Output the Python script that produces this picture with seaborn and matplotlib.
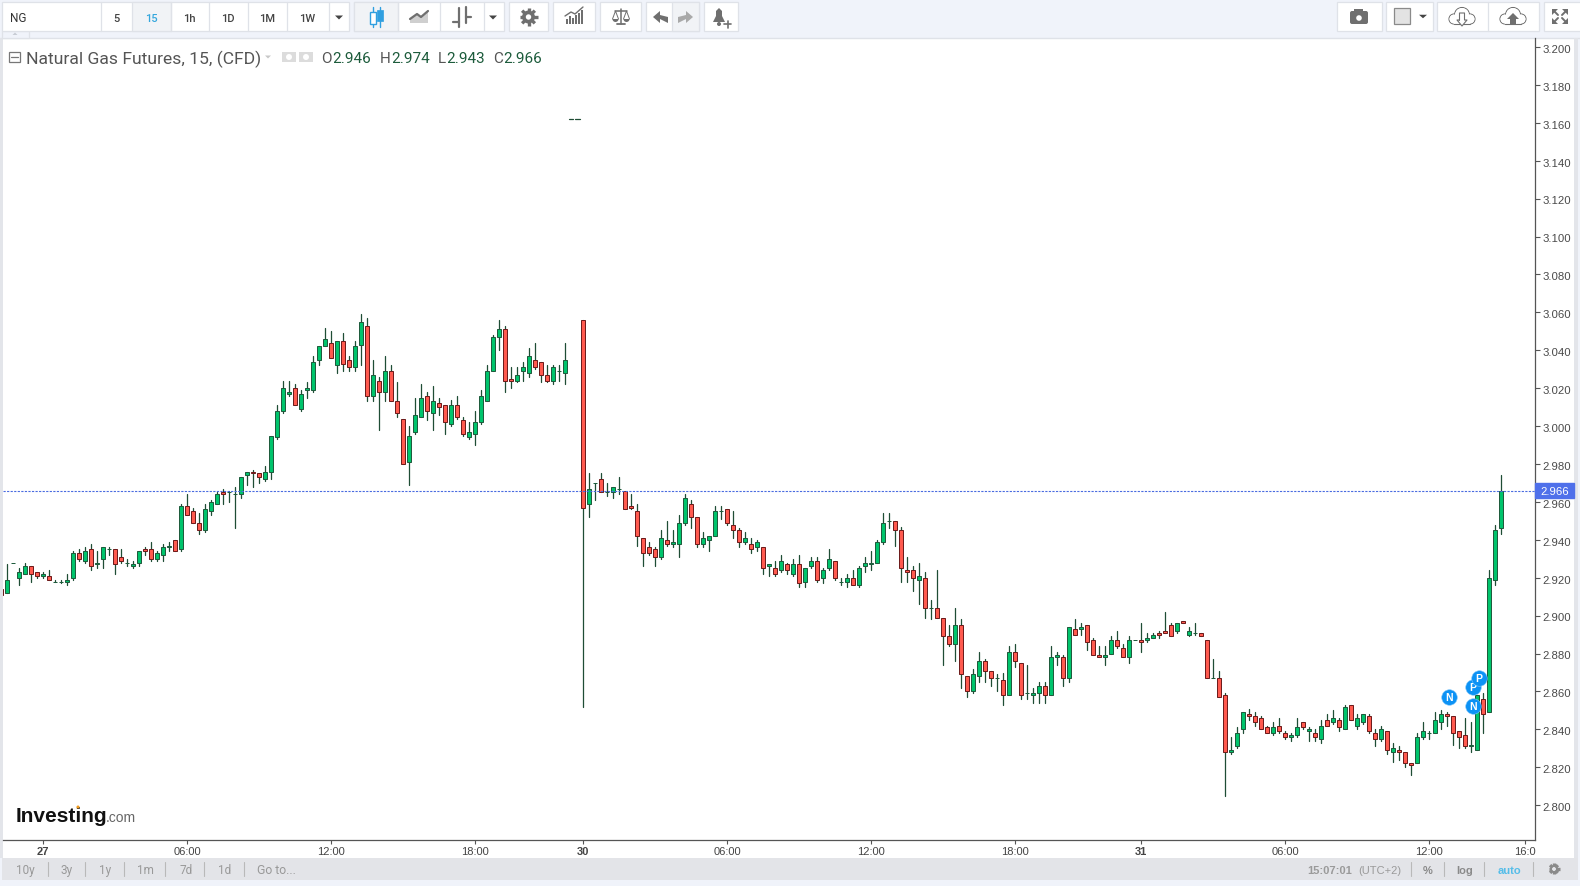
import numpy as np
import pandas as pd
import seaborn as sns
import matplotlib.pyplot as plt
import matplotlib.patches as mpatches
from matplotlib.transforms import ScaledTranslation, blended_transform_factory

# 15 minute bars, two empty slots at the weekend break
bar_index = list(range(-1, 94)) + list(range(96, 250))

opens = [2.914,
    2.912,2.928,2.920,2.922,2.926,2.923,2.921,2.921,2.918,2.918,
    2.918,2.920,2.933,2.929,2.935,2.927,2.930,2.935,2.935,2.931,
    2.928,2.926,2.928,2.935,2.935,2.930,2.932,2.936,2.940,2.935,
    2.958,2.955,2.949,2.945,2.955,2.959,2.965,2.965,2.964,2.964,
    2.974,2.976,2.975,2.972,2.976,2.994,3.008,3.017,3.020,3.009,
    3.019,3.019,3.035,3.042,3.044,3.032,3.045,3.035,3.031,3.043,
    3.053,3.016,3.024,3.018,3.029,3.013,3.004,2.981,2.997,3.005,
    3.016,3.007,3.012,3.011,3.001,3.011,3.003,2.994,2.996,3.002,
    3.013,3.029,3.047,3.051,3.025,3.024,3.029,3.028,3.035,3.034,
    3.027,3.024,3.029,3.028,
    3.056,2.959,2.970,2.972,
    2.965,2.965,2.967,2.966,2.958,2.955,2.941,2.936,2.935,2.931,
    2.940,2.938,2.938,2.949,2.959,2.952,2.938,2.940,2.942,2.955,
    2.956,2.948,2.945,2.939,2.938,2.936,2.936,2.926,2.925,2.924,
    2.927,2.922,2.927,2.918,2.926,2.929,2.920,2.925,2.929,2.918,
    2.918,2.920,2.916,2.926,2.927,2.928,2.939,2.950,2.950,2.945,
    2.924,2.924,2.919,2.920,2.904,2.904,2.899,2.889,2.885,2.895,
    2.868,2.860,2.868,2.876,2.871,2.867,2.866,2.858,2.881,2.875,
    2.859,2.858,2.859,2.863,2.858,2.878,2.878,2.867,2.893,2.893,
    2.895,2.887,2.879,2.878,2.880,2.887,2.883,2.878,2.887,2.887,
    2.887,2.888,2.891,2.892,2.895,2.892,2.897,2.890,2.891,2.891,
    2.887,2.867,2.867,2.858,2.828,2.831,2.840,2.848,2.847,2.846,
    2.841,2.838,2.842,2.838,2.836,2.837,2.844,2.839,2.838,2.835,
    2.845,2.844,2.845,2.840,2.853,2.842,2.844,2.847,2.838,2.835,
    2.839,2.828,2.829,2.828,2.822,2.822,2.836,2.838,2.838,2.844,
    2.848,2.847,2.839,2.837,2.831,2.829,2.856,2.849,2.919,2.946]

closes = [2.911,
    2.919,2.928,2.923,2.926,2.922,2.921,2.922,2.919,2.918,2.918,
    2.919,2.933,2.930,2.934,2.926,2.928,2.936,2.935,2.927,2.929,
    2.928,2.927,2.934,2.934,2.930,2.933,2.936,2.937,2.934,2.958,
    2.953,2.949,2.945,2.956,2.960,2.964,2.964,2.965,2.964,2.973,
    2.976,2.975,2.973,2.976,2.995,3.008,3.020,3.018,3.011,3.017,
    3.020,3.034,3.042,3.046,3.036,3.045,3.033,3.031,3.042,3.055,
    3.016,3.027,3.018,3.029,3.013,3.007,2.980,2.995,3.006,3.015,
    3.008,3.013,3.010,3.002,3.011,3.005,2.996,2.997,3.002,3.016,
    3.029,3.047,3.051,3.024,3.024,3.027,3.031,3.037,3.031,3.027,
    3.024,3.031,3.029,3.035,
    2.957,2.967,2.970,2.965,
    2.965,2.968,2.967,2.956,2.957,2.942,2.933,2.933,2.931,2.941,
    2.938,2.939,2.949,2.962,2.952,2.938,2.941,2.942,2.955,2.955,
    2.949,2.945,2.939,2.941,2.935,2.939,2.925,2.927,2.922,2.929,
    2.924,2.927,2.917,2.925,2.929,2.919,2.924,2.930,2.920,2.918,
    2.920,2.916,2.925,2.928,2.928,2.939,2.949,2.950,2.945,2.925,
    2.923,2.920,2.921,2.904,2.904,2.899,2.889,2.885,2.895,2.869,
    2.860,2.869,2.876,2.871,2.867,2.867,2.858,2.881,2.876,2.858,
    2.859,2.859,2.863,2.858,2.878,2.879,2.867,2.894,2.890,2.894,
    2.886,2.879,2.878,2.879,2.887,2.884,2.878,2.887,2.887,2.886,
    2.888,2.890,2.890,2.891,2.889,2.896,2.896,2.892,2.891,2.889,
    2.867,2.867,2.857,2.828,2.829,2.838,2.849,2.847,2.844,2.840,
    2.838,2.841,2.839,2.836,2.837,2.841,2.841,2.840,2.836,2.842,
    2.842,2.846,2.841,2.852,2.845,2.846,2.848,2.839,2.835,2.840,
    2.829,2.830,2.828,2.822,2.821,2.836,2.839,2.838,2.845,2.848,
    2.847,2.838,2.836,2.831,2.832,2.858,2.848,2.920,2.945,2.966]

highs = [2.914,
    2.927,2.928,2.925,2.928,2.926,2.923,2.923,2.924,2.919,2.919,
    2.922,2.934,2.935,2.936,2.938,2.934,2.936,2.936,2.935,2.935,
    2.930,2.929,2.934,2.936,2.939,2.934,2.938,2.939,2.940,2.959,
    2.964,2.957,2.954,2.959,2.961,2.965,2.967,2.966,2.968,2.973,
    2.976,2.977,2.975,2.979,2.995,3.011,3.024,3.024,3.022,3.019,
    3.023,3.037,3.042,3.052,3.050,3.045,3.049,3.037,3.045,3.059,
    3.057,3.035,3.026,3.037,3.032,3.023,3.004,3.000,3.015,3.022,
    3.018,3.021,3.015,3.011,3.014,3.016,3.005,3.002,3.008,3.019,
    3.032,3.048,3.056,3.053,3.031,3.031,3.034,3.041,3.044,3.034,
    3.032,3.032,3.032,3.044,
    3.056,2.975,2.970,2.975,
    2.970,2.968,2.973,2.966,2.964,2.959,2.941,2.939,2.936,2.945,
    2.950,2.945,2.953,2.964,2.961,2.952,2.944,2.942,2.958,2.958,
    2.956,2.955,2.946,2.944,2.941,2.940,2.936,2.927,2.929,2.932,
    2.928,2.930,2.932,2.925,2.931,2.931,2.925,2.935,2.929,2.920,
    2.922,2.924,2.926,2.931,2.934,2.940,2.954,2.954,2.950,2.947,
    2.931,2.926,2.928,2.923,2.908,2.924,2.899,2.895,2.904,2.898,
    2.868,2.872,2.881,2.877,2.871,2.869,2.870,2.884,2.885,2.875,
    2.874,2.862,2.865,2.865,2.884,2.881,2.879,2.894,2.898,2.896,
    2.895,2.888,2.884,2.884,2.889,2.892,2.885,2.889,2.887,2.896,
    2.891,2.891,2.892,2.902,2.896,2.896,2.897,2.894,2.896,2.891,
    2.887,2.877,2.871,2.859,2.836,2.841,2.849,2.851,2.849,2.847,
    2.842,2.844,2.846,2.839,2.838,2.846,2.844,2.841,2.840,2.845,
    2.848,2.850,2.846,2.853,2.853,2.848,2.848,2.848,2.840,2.842,
    2.839,2.833,2.831,2.828,2.822,2.838,2.844,2.839,2.849,2.850,
    2.849,2.847,2.839,2.846,2.844,2.858,2.859,2.924,2.948,2.974]

lows = [2.911,
    2.912,2.928,2.916,2.922,2.918,2.920,2.920,2.919,2.918,2.917,
    2.916,2.919,2.929,2.928,2.924,2.925,2.925,2.932,2.922,2.928,
    2.926,2.925,2.926,2.932,2.929,2.929,2.929,2.934,2.934,2.934,
    2.953,2.949,2.943,2.944,2.953,2.959,2.959,2.960,2.946,2.962,
    2.969,2.968,2.970,2.971,2.972,2.993,3.007,3.016,3.011,3.008,
    3.015,3.018,3.032,3.042,3.036,3.028,3.029,3.029,3.029,3.032,
    3.013,3.013,2.998,3.013,3.013,3.005,2.980,2.969,2.996,3.005,
    3.003,2.998,3.006,2.996,3.000,3.004,2.995,2.993,2.990,3.001,
    3.013,3.029,3.040,3.018,3.020,3.023,3.024,3.026,3.030,3.023,
    3.023,3.022,3.024,3.022,
    2.852,2.952,2.961,2.965,
    2.963,2.962,2.964,2.956,2.956,2.937,2.926,2.932,2.926,2.930,
    2.937,2.936,2.931,2.948,2.946,2.936,2.936,2.934,2.942,2.951,
    2.948,2.941,2.936,2.938,2.933,2.934,2.922,2.921,2.921,2.923,
    2.922,2.921,2.915,2.915,2.925,2.918,2.917,2.924,2.919,2.916,
    2.915,2.916,2.915,2.923,2.924,2.928,2.938,2.946,2.937,2.918,
    2.918,2.913,2.906,2.899,2.898,2.899,2.874,2.884,2.876,2.862,
    2.857,2.859,2.865,2.865,2.863,2.860,2.853,2.858,2.873,2.856,
    2.856,2.854,2.854,2.854,2.858,2.874,2.863,2.865,2.890,2.890,
    2.882,2.879,2.878,2.874,2.880,2.883,2.878,2.875,2.887,2.881,
    2.886,2.888,2.888,2.891,2.889,2.891,2.896,2.889,2.890,2.889,
    2.867,2.867,2.857,2.805,2.827,2.830,2.838,2.845,2.842,2.840,
    2.838,2.837,2.838,2.835,2.834,2.836,2.840,2.834,2.834,2.833,
    2.842,2.843,2.839,2.840,2.845,2.840,2.843,2.838,2.831,2.834,
    2.827,2.823,2.824,2.820,2.816,2.822,2.835,2.835,2.838,2.840,
    2.842,2.832,2.830,2.830,2.828,2.829,2.838,2.849,2.916,2.943]

price_ticks = [2.80, 2.82, 2.84, 2.86, 2.88, 2.90, 2.92, 2.94, 2.96, 2.98, 3.00,
               3.02, 3.04, 3.06, 3.08, 3.10, 3.12, 3.14, 3.16, 3.18, 3.20]
time_ticks = [6, 30, 54, 78, 96, 120, 144, 168, 189, 213, 237, 253]
time_labels = ['27', '06:00', '12:00', '18:00', '30', '06:00', '12:00', '18:00', '31', '06:00', '12:00', '16:0']
current_price = 2.966

event_index = [240.2, 244.2, 244.2, 245.2]
event_price = [2.8572, 2.8625, 2.8525, 2.8669]
event_label = ['N', 'P', 'N', 'P']

UP_FILL, UP_EDGE = '#00c46c', '#1f5c3d'
DOWN_FILL, DOWN_EDGE = '#ff5a4f', '#6e1c1c'
WICK = '#1f4d35'
BLUE = '#4a6ce0'
EVENT = '#0c92f5'
PAGE = '#f0f3fa'
LINE = '#dfe2e8'
ICON = '#6f6f6f'

sns.set_style('white')
plt.rcParams['font.family'] = ['Liberation Sans', 'DejaVu Sans']

W, H = 1580, 887
fig = plt.figure(figsize=(W / 100, H / 100), dpi=100, facecolor=PAGE)

# pixel canvas for the page around the chart
ui = fig.add_axes([0, 0, 1, 1], zorder=0)
ui.set_xlim(0, W)
ui.set_ylim(H, 0)
ui.axis('off')

ax = fig.add_axes([3 / W, (H - 840.5) / H, 1532 / W, 802 / H], zorder=1)
ax.patch.set_visible(False)

df = pd.DataFrame({'idx': bar_index, 'open': opens, 'high': highs, 'low': lows, 'close': closes})
df['body_low'] = df[['open', 'close']].min(axis=1)
df['body'] = (df['close'] - df['open']).abs()
rising = df[df['close'] >= df['open']]
falling = df[df['close'] < df['open']]

wicks = df.melt(id_vars='idx', value_vars=['low', 'high'], value_name='price')
sns.lineplot(data=wicks, x='idx', y='price', units='idx', estimator=None, color=WICK, lw=0.9, ax=ax, zorder=2)

for part, fill, edge in [(rising, UP_FILL, UP_EDGE), (falling, DOWN_FILL, DOWN_EDGE)]:
    sns.barplot(data=part, x='idx', y='body', bottom=part['body_low'].to_numpy(), native_scale=True,
                color=fill, saturation=1, edgecolor=edge, linewidth=0.72, width=0.7,
                errorbar=None, ax=ax, zorder=3)

ax.axhline(current_price, color=BLUE, ls=(0, (2, 1.2)), lw=0.8, zorder=4)

for i, (x, y, mark) in enumerate(zip(event_index, event_price, event_label)):
    sns.scatterplot(x=[x], y=[y], s=125, color=EVENT, edgecolor='#7cc4fa', linewidth=0.4, ax=ax, zorder=6 + i, legend=False)
    ax.text(x, y, mark, color='white', fontsize=7.5, fontweight='bold', ha='center', va='center', zorder=6 + i)

ax.set_xlim(-0.72, 254.6)
ax.set_ylim(2.7819, 3.2050)
ax.set_xlabel('')
ax.set_ylabel('')
ax.yaxis.tick_right()
ax.set_yticks(price_ticks, [f'{v:.3f}' for v in price_ticks])
ax.set_xticks(time_ticks, time_labels)
ax.tick_params(axis='y', length=3.6, width=0.8, color='#555555', labelcolor='#4a4a4a', labelsize=8.2, pad=1.5, right=True, left=False)
ax.tick_params(axis='x', length=3, width=0.8, color='#555555', labelcolor='#444444', labelsize=8, pad=1.6, bottom=True)
for lab in ax.get_xticklabels():
    if lab.get_text() in ('27', '30', '31'):
        lab.set_fontweight('bold')
for lab in ax.get_yticklabels():
    lab.set_transform(lab.get_transform() + ScaledTranslation(0, -0.8 / 100, fig.dpi_scale_trans))
for side in ('left', 'top'):
    ax.spines[side].set_visible(False)
for side in ('right', 'bottom'):
    ax.spines[side].set_visible(True)
    ax.spines[side].set_color('#555555')
    ax.spines[side].set_linewidth(0.9)

# last price tag on the scale
tag = blended_transform_factory(ax.transAxes, ax.transData)
ax.add_patch(mpatches.Rectangle((1, current_price - 0.004), 39 / 1532, 0.008, transform=tag, color='#4f70ea', clip_on=False, zorder=10))
ax.text(1 + 19.5 / 1532, current_price - 0.0004, f'{current_price:.3f}', transform=tag, color='white', fontsize=8.2, ha='center', va='center', zorder=11)


def box(x0, y0, x1, y1, fc='white', ec=LINE, lw=0.9, z=1):
    ui.add_patch(mpatches.Rectangle((x0, y0), x1 - x0, y1 - y0, fc=fc, ec=ec, lw=lw, zorder=z))


def label(x, y, s, color='#555555', size=8, ha='center', family=None, weight='normal'):
    ui.text(x, y + 1, s, color=color, fontsize=size, ha=ha, va='center', family=family or plt.rcParams['font.family'], fontweight=weight, zorder=5)


def poly(points, color=ICON, z=4):
    ui.add_patch(mpatches.Polygon(points, closed=True, fc=color, ec='none', zorder=z))


def caret(x, y, w=4, h=4, color='#444444'):
    poly([(x - w, y - h / 2), (x + w, y - h / 2), (x, y + h / 2)], color)


def gear(x, y, r, color=ICON):
    for a in np.arange(0, np.pi, np.pi / 4):
        ui.plot([x - r * np.cos(a), x + r * np.cos(a)], [y - r * np.sin(a), y + r * np.sin(a)], color=color, lw=2.4, solid_capstyle='butt', zorder=4)
    ui.add_patch(mpatches.Circle((x, y), r * 0.72, fc=color, ec='none', zorder=4))
    ui.add_patch(mpatches.Circle((x, y), r * 0.3, fc='white', ec='none', zorder=4))


def cloud(x, y, arrow_up):
    parts = [(x - 8, y + 3, 5), (x, y - 1, 7.5), (x + 8, y + 3, 5)]
    for cx, cy, r in parts:
        ui.add_patch(mpatches.Circle((cx, cy), r, fc='white', ec=ICON, lw=0.8, zorder=3))
    for cx, cy, r in parts:
        ui.add_patch(mpatches.Circle((cx, cy), r - 0.5, fc='white', ec='none', zorder=3))
    box(x - 8, y + 1, x + 8, y + 8, ec='none', z=3)
    ui.plot([x - 8, x + 8], [y + 8, y + 8], color=ICON, lw=0.8, zorder=3)
    if arrow_up:
        poly([(x, y - 3), (x + 6, y + 3), (x + 3, y + 3), (x + 3, y + 9), (x - 3, y + 9), (x - 3, y + 3), (x - 6, y + 3)])
    else:
        poly([(x, y + 10), (x + 5, y + 4), (x + 2.5, y + 4), (x + 2.5, y - 3), (x - 2.5, y - 3), (x - 2.5, y + 4), (x - 5, y + 4)], 'white')
        ui.plot([x - 2.5, x - 2.5, x + 2.5, x + 2.5, x + 5, x, x - 5, x - 2.5], [y + 4, y - 3, y - 3, y + 4, y + 4, y + 10, y + 4, y + 4], color=ICON, lw=0.8, zorder=5)


# plot surface and page bands
box(0, 38.5, 1574, 859, ec='none', z=0)
ui.plot([0, 1580], [38.5, 38.5], color=LINE, lw=1, zorder=1)
box(0, 38.5, 2.7, 859, fc='#e3e5ea', ec='none', z=1)
box(1574, 38.5, 1578, 859, fc='#e3e5ea', ec='none', z=1)
box(2, 859, 1578, 881.5, fc='#e3e4e8', ec='none', z=1)
box(2, 32, 29, 38.5, fc=PAGE)
poly([(12.5, 36), (17.5, 36), (15, 33.5)], '#c8ccd4')

# interval and chart buttons
box(2, 3, 349, 32)
box(132, 3, 171, 32, fc='#f1f3f6')
for x in [101, 171, 208.5, 248, 286.5, 329]:
    ui.plot([x, x], [3, 32], color=LINE, lw=0.9, zorder=2)
label(10, 18, 'NG', '#333333', 8.5, 'left', 'Roboto')
for x, s, c in [(116, '5', '#444444'), (151, '15', '#35a7dd'), (189, '1h', '#444444'), (228, '1D', '#444444'), (267, '1M', '#444444'), (307, '1W', '#444444')]:
    label(x, 18, s, c, 8, family='Roboto', weight='medium')
caret(339, 18.5, 4, 4)

box(354, 3, 504, 32)
box(354, 3, 397.5, 32, fc='#f1f3f6')
for x in [397.5, 440, 484]:
    ui.plot([x, x], [3, 32], color=LINE, lw=0.9, zorder=2)
ui.plot([373, 373], [8, 28], color='#2f9fe0', lw=1, zorder=3)
ui.plot([380, 380], [8, 28], color='#2f9fe0', lw=1, zorder=3)
box(370, 13, 376, 25, ec='#2f9fe0', lw=1, z=4)
box(377, 11, 382.5, 22, fc='#2f9fe0', ec='#2f9fe0', lw=0.5, z=4)
poly([(410, 24), (410, 20), (417, 15), (421, 18), (428, 12), (428, 24)], '#cfcfcf')
ui.plot([410, 417, 421, 428], [20, 15, 18, 12], color=ICON, lw=1.6, zorder=4)
ui.plot([459, 459], [9, 28], color=ICON, lw=1.6, zorder=4)
ui.plot([453, 459], [23, 23], color=ICON, lw=1.6, zorder=4)
ui.plot([466, 466], [8, 24], color=ICON, lw=1.6, zorder=4)
ui.plot([466, 471], [18, 18], color=ICON, lw=1.6, zorder=4)
caret(493, 18.5, 4, 4)

box(509, 3, 548, 32)
gear(528.5, 18, 9)
box(552.6, 3, 595, 32)
for x, h in zip(range(566, 584, 3), [5, 8, 6, 9, 11, 14]):
    box(x, 25 - h, x + 1.6, 25, fc=ICON, ec='none', z=4)
ui.plot([565, 571, 575, 583], [17, 13, 15, 8], color=ICON, lw=1, zorder=4)
box(600, 3, 641, 32)
ui.plot([621, 621], [10, 25], color=ICON, lw=1.1, zorder=4)
ui.plot([615, 627], [12, 12], color=ICON, lw=1.1, zorder=4)
ui.plot([617, 625], [25, 25], color=ICON, lw=1.3, zorder=4)
for cx in (615.5, 626.5):
    ui.plot([cx - 3, cx, cx + 3], [20, 12, 20], color=ICON, lw=0.7, zorder=4)
    ui.add_patch(mpatches.Wedge((cx, 20), 3, 0, 180, fc=ICON, ec='none', zorder=4))
box(646, 3, 699, 32)
box(672, 3, 699, 32, fc='#f1f3f6')
poly([(653, 18), (660, 12), (660, 16), (668, 18), (668, 24), (660, 20), (660, 24)])
poly([(693, 18), (686, 12), (686, 16), (678, 18), (678, 24), (686, 20), (686, 24)], '#a9a9a9')
box(704, 3, 738, 32)
poly([(713, 23), (716, 17), (716, 12), (719, 9), (722, 12), (722, 17), (725, 23)])
ui.add_patch(mpatches.Circle((719, 25), 2, fc=ICON, ec='none', zorder=4))
ui.plot([724, 731], [25, 25], color=ICON, lw=1.2, zorder=4)
ui.plot([727.5, 727.5], [21.5, 28.5], color=ICON, lw=1.2, zorder=4)

box(1336.7, 3, 1381.7, 32)
ui.add_patch(mpatches.FancyBboxPatch((1350, 12), 18, 13, boxstyle='round,pad=0,rounding_size=2', fc=ICON, ec='none', zorder=4))
box(1354, 10, 1363, 13, fc=ICON, ec='none', z=4)
ui.add_patch(mpatches.Circle((1359, 19), 2.8, fc='white', ec='none', zorder=5))
box(1386, 3, 1432.7, 32)
box(1393.5, 9, 1410, 25, fc='#e3e3e3', ec='#8a8a8a', lw=0.9, z=4)
caret(1423, 17.5, 4, 3.5)
box(1437, 3, 1539, 32)
ui.plot([1488, 1488], [3, 32], color=LINE, lw=0.9, zorder=2)
cloud(1462, 17, False)
cloud(1513, 17, True)
box(1544, 3, 1582, 32)
for cx, cy, sx, sy in [(1553, 11, 1, 1), (1567, 11, -1, 1), (1553, 24, 1, -1), (1567, 24, -1, -1)]:
    poly([(cx - sx, cy - sy), (cx + 5 * sx, cy - sy), (cx - sx, cy + 5 * sy)])
    ui.plot([cx, cx + 5 * sx], [cy, cy + 5 * sy], color=ICON, lw=1.4, zorder=4)

# legend strip over the plot
box(9, 53, 20, 63, fc='white', ec='#777777', lw=0.9, z=3)
ui.plot([11, 18], [58, 58], color='#777777', lw=0.9, zorder=4)
label(26.5, 58, 'Natural Gas Futures, 15, (CFD)', '#555555', 12.6, 'left', 'Roboto')
caret(268, 58, 3, 3, '#c8c8c8')
for x in (282, 299):
    box(x, 53, x + 14, 63, fc='#dcdcdc', ec='none', z=3)
    ui.add_patch(mpatches.Circle((x + 7, 58), 3, fc='white', ec='none', zorder=4))
for x, head, value in [(321, 'O', '2.946'), (379.6, 'H', '2.974'), (437.8, 'L', '2.943'), (493, 'C', '2.966')]:
    t = ui.text(x, 59, head, color='#555555', fontsize=11, family='Roboto', va='center', zorder=5)
    ui.annotate(value, xy=(1, 0.5), xycoords=t, xytext=(0.3, 0), textcoords='offset points', color='#1d5c3c', fontsize=11, family='Roboto', va='center', zorder=5)
ui.plot([568.6, 573.4], [119.5, 119.5], color='#1f4d35', lw=0.9, zorder=3)
ui.plot([575, 580], [119.5, 119.5], color='#1f4d35', lw=0.9, zorder=3)

# watermark
t = ui.text(16, 817, 'Investing', color='#111111', fontsize=15, fontweight='bold', va='center', zorder=3)
ui.annotate('.com', xy=(1, 0.5), xycoords=t, xytext=(-1.5, -0.5), textcoords='offset points', color='#666666', fontsize=10, va='center', zorder=3)
ui.add_patch(mpatches.Circle((78, 808), 1.5, fc='#f29b1d', ec='none', zorder=4))

# range bar at the bottom
for x, s in [(25, '10y'), (67, '3y'), (105, '1y'), (145, '1m'), (185.7, '7d'), (224.5, '1d')]:
    label(x, 870, s, '#999999', 8.5, family='Roboto')
label(257, 870, 'Go to...', '#999999', 8.8, 'left', 'Roboto')
for x in [47.8, 85, 123.7, 165, 204, 243.7, 1410.7, 1443.7, 1484.3, 1533]:
    ui.plot([x, x], [863, 877], color='#b9b9b9', lw=0.8, zorder=3)
label(1307.7, 870, '15:07:01', '#9a9a9a', 8, 'left', weight='bold')
label(1358.7, 870, '(UTC+2)', '#9a9a9a', 8, 'left')
label(1427.3, 870, '%', '#8a8a8a', 8, weight='bold')
label(1464.7, 870, 'log', '#8a8a8a', 8, weight='bold')
label(1509.3, 870, 'auto', '#55bde8', 8, weight='bold')
gear(1554, 870, 5.5, '#8a8a8a')
ui.add_patch(mpatches.Circle((1554, 870), 1.8, fc='#e3e4e8', ec='none', zorder=5))

plt.savefig('out.png', dpi=100, facecolor=fig.get_facecolor())
